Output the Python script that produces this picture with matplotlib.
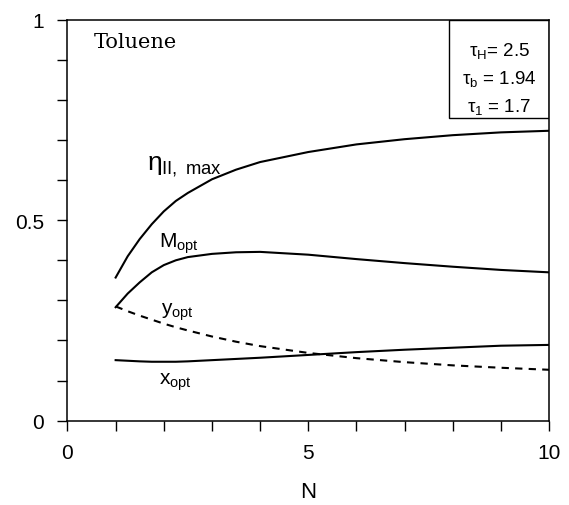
import matplotlib
matplotlib.use("Agg")
import matplotlib.pyplot as plt
from matplotlib.patches import Rectangle
from matplotlib.ticker import MultipleLocator, FixedLocator

plt.rcParams["font.family"] = ["Liberation Sans", "DejaVu Sans"]
plt.rcParams["mathtext.fontset"] = "custom"
plt.rcParams["mathtext.rm"] = "Liberation Sans"
plt.rcParams["mathtext.it"] = "Liberation Sans:italic"

# Number of stages and the optimum values for toluene
N = [1, 1.25, 1.5, 1.75, 2, 2.25, 2.5, 3, 3.5, 4, 5, 6, 7, 8, 9, 10]
eta_max = [0.357, 0.410, 0.453, 0.490, 0.522, 0.548, 0.568, 0.602, 0.626, 0.645,
           0.670, 0.689, 0.702, 0.712, 0.719, 0.723]
M_opt = [0.283, 0.317, 0.345, 0.370, 0.388, 0.400, 0.408, 0.416, 0.420, 0.421,
         0.414, 0.403, 0.393, 0.384, 0.376, 0.370]
y_opt = [0.285, 0.273, 0.262, 0.252, 0.242, 0.233, 0.225, 0.210, 0.197, 0.186,
         0.169, 0.156, 0.146, 0.138, 0.132, 0.127]
x_opt = [0.151, 0.1495, 0.148, 0.147, 0.147, 0.147, 0.148, 0.151, 0.154, 0.157,
         0.164, 0.171, 0.177, 0.182, 0.187, 0.189]

x_ticks = [0, 5, 10]
y_ticks = [0, 0.5, 1]
y_tick_labels = ["0", "0.5", "1"]

fig = plt.figure(figsize=(5.69, 5.06), dpi=100)
ax = fig.add_axes([0.1186, 0.1666, 0.8463, 0.7925])

lw = 1.5
ax.plot(N, eta_max, color="black", lw=lw, solid_joinstyle="round")
ax.plot(N, M_opt, color="black", lw=lw, solid_joinstyle="round")
ax.plot(N, y_opt, color="black", lw=lw, linestyle=(0, (3.5, 3)))
ax.plot(N, x_opt, color="black", lw=lw, solid_joinstyle="round")

ax.set_xlim(0, 10)
ax.set_ylim(0, 1)
ax.xaxis.set_major_locator(FixedLocator(x_ticks))
ax.xaxis.set_minor_locator(MultipleLocator(1))
ax.yaxis.set_major_locator(FixedLocator(y_ticks))
ax.yaxis.set_minor_locator(MultipleLocator(0.1))
ax.set_xticklabels([str(t) for t in x_ticks])
ax.set_yticklabels(y_tick_labels)
ax.tick_params(which="both", direction="out", length=7, width=1.0)
ax.tick_params(axis="y", which="major", pad=10, labelsize=15)
ax.tick_params(axis="x", which="major", pad=9, labelsize=15)
for s in ax.spines.values():
    s.set_linewidth(1.1)

ax.set_xlabel("N", fontsize=16, labelpad=14)

# Curve labels
ax.text(1.66, 0.628, r"$\mathrm{η}_{\mathrm{II,\ max}}$", fontsize=19, ha="left", va="baseline")
ax.text(1.91, 0.433, r"$\mathrm{M}_{\mathrm{opt}}$", fontsize=15, ha="left", va="baseline")
ax.text(1.94, 0.266, r"$\mathrm{y}_{\mathrm{opt}}$", fontsize=15, ha="left", va="baseline")
ax.text(1.91, 0.0915, r"$\mathrm{x}_{\mathrm{opt}}$", fontsize=15, ha="left", va="baseline")

ax.text(0.055, 0.945, "Toluene", transform=ax.transAxes, fontsize=15,
        family="DejaVu Serif", ha="left", va="center")

# Parameter box in the upper right corner
ax.add_patch(Rectangle((0.793, 0.755), 0.207, 0.245, transform=ax.transAxes,
                       fill=False, edgecolor="black", lw=1.0))
params = [(r"$\mathrm{τ_H}$= 2.5", 0.912), (r"$\mathrm{τ_b}$ = 1.94", 0.843),
          (r"$\mathrm{τ_1}$ = 1.7", 0.772)]
for txt, yy in params:
    ax.text(0.897, yy, txt, transform=ax.transAxes, fontsize=13.5,
            ha="center", va="baseline")

fig.savefig("out.png", dpi=100)
